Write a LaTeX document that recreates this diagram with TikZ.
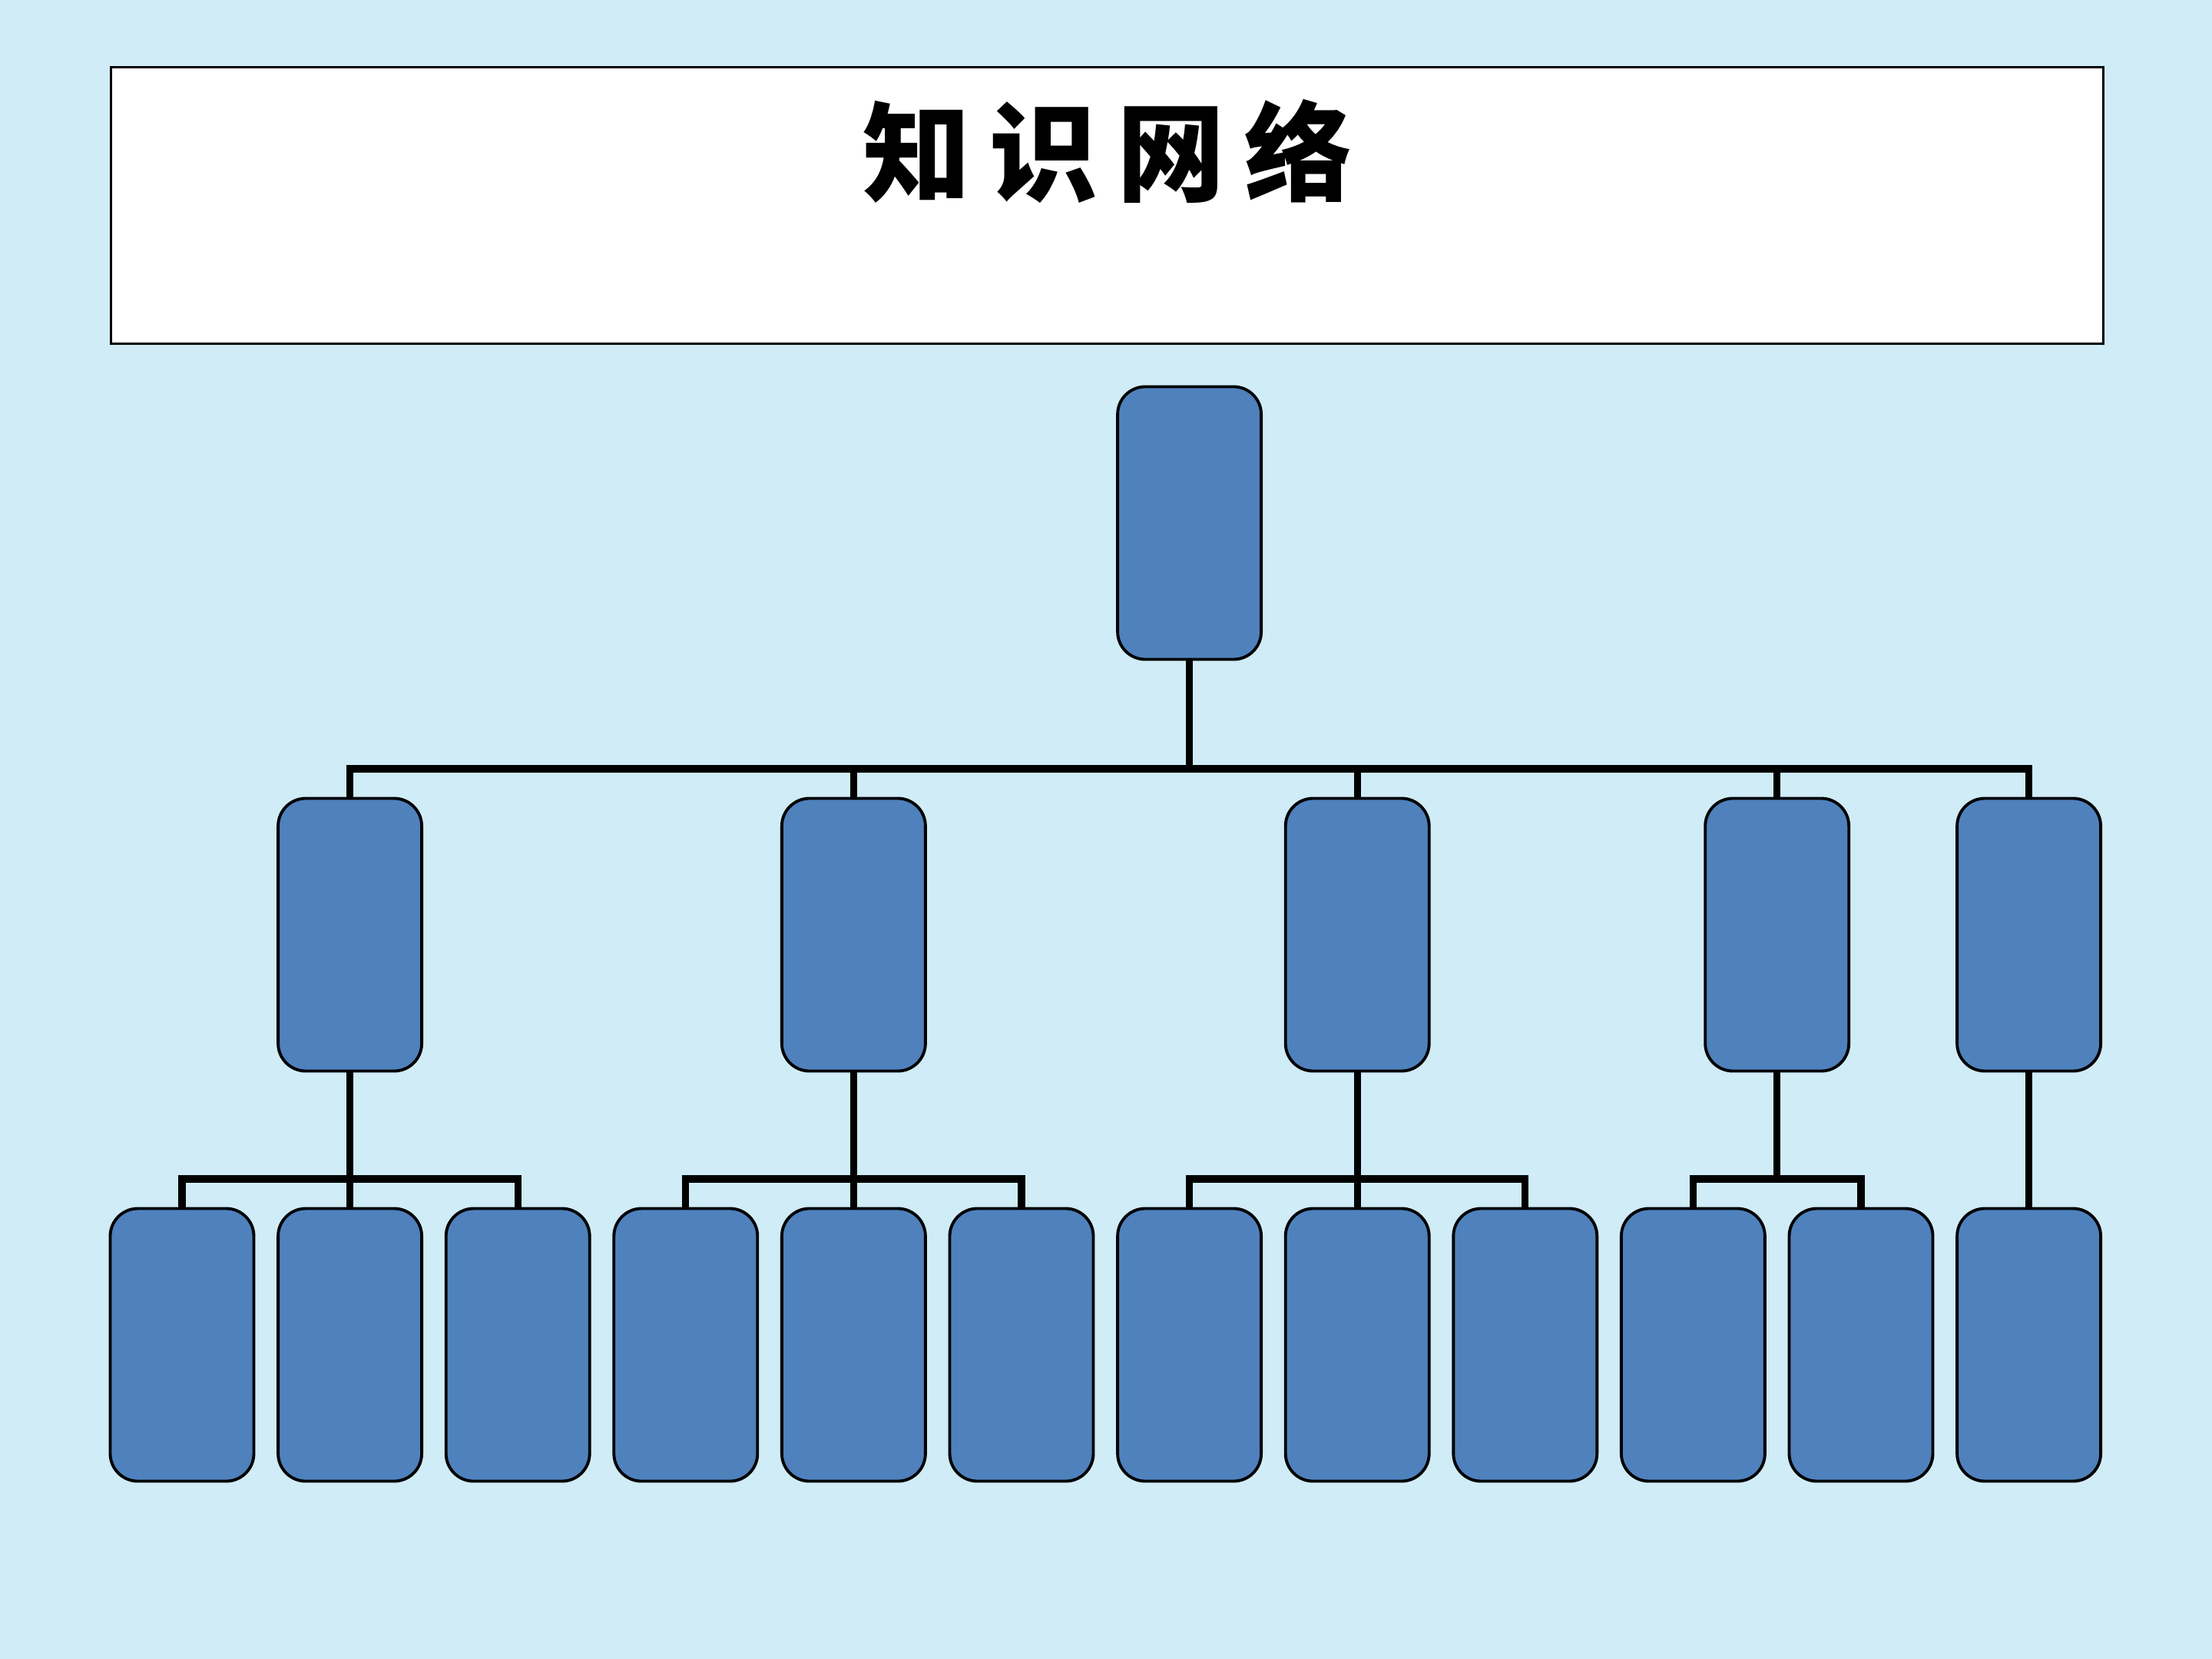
\documentclass[tikz,border=0pt]{standalone}
\usepackage{fontspec}
\newfontfamily\cjk{Noto Sans CJK SC}
\usepackage{tikz}
\usetikzlibrary{positioning, calc}
\definecolor{bgblue}{RGB}{207,236,247}
\definecolor{boxblue}{RGB}{79,129,189}
\tikzset{
	box/.style = {draw, fill=boxblue, rounded corners=0.36cm, minimum width=1.87cm, minimum height=3.55cm, line width=1.1pt},
	link/.style = {line width=2.6pt}
}

\begin{document}
\begin{tikzpicture}
		\fill[bgblue] (0,0) rectangle (28.8,-21.6);
		\useasboundingbox (0,0) rectangle (28.8,-21.6);
		\node(titlebox) [draw, fill=white, line width=0.8pt, minimum width=25.94cm, minimum height=3.6cm, anchor=north west] at (1.43,-0.86) {};
		\node(title) at (14.42,-1.97) {\cjk\bfseries\fontsize{40}{48}\selectfont 知\hspace{0.25cm}识\hspace{0.25cm}网\hspace{0.25cm}络};
		
		\foreach \i in {1,...,12}
			\node(leaf\i) [box] at ({2.37+2.186*(\i-1)},-17.51) {};
		\node(root) [box] at (leaf7 |- 0,-6.81) {};
		\node(a) [box] at (leaf2 |- 0,-12.17) {};
		\node(b) [box] at (leaf5 |- 0,-12.17) {};
		\node(c) [box] at (leaf8 |- 0,-12.17) {};
		\node(d) [box] at ($(leaf10)!0.5!(leaf11) + (0,5.34)$) {};
		\node(e) [box] at (leaf12 |- 0,-12.17) {};
		
		\coordinate (bus1) at (0,-10.01);
		\coordinate (bus2) at (0,-15.35);
		\foreach \n in {a,b,c,d,e}
			\draw[link] (root.south) -- (root.south |- bus1) -| (\n.north);
		\foreach \p/\c in {a/1,a/2,a/3,b/4,b/5,b/6,c/7,c/8,c/9,d/10,d/11,e/12}
			\draw[link] (\p.south) -- (\p.south |- bus2) -| (leaf\c.north);
\end{tikzpicture}
\end{document}
